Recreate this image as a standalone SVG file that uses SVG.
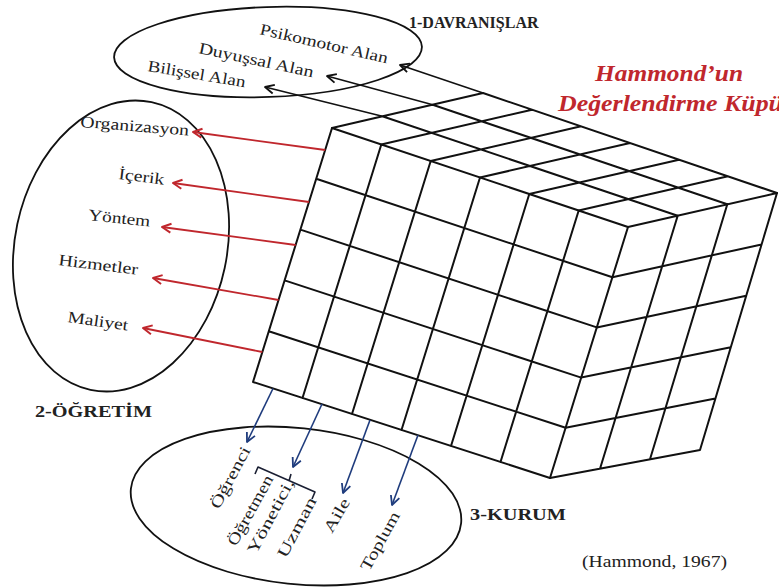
<svg xmlns="http://www.w3.org/2000/svg" width="779" height="588" viewBox="0 0 779 588">
<style>
  .grid { stroke: #111; stroke-width: 2; fill: none; stroke-linecap: round; }
  .ell { fill: none; stroke: #111; stroke-width: 1.8; }
  .lbl { font-family: "Liberation Serif", "Times New Roman", serif; font-size: 16px; fill: #222; }
  .hdr { font-family: "Liberation Serif", "Times New Roman", serif; font-size: 16px; font-weight: bold; fill: #222; }
  .title { font-family: "Liberation Serif", "Times New Roman", serif; font-size: 23px; font-weight: bold; font-style: italic; fill: #c0272d; }
  .ab { stroke: #111; stroke-width: 1.6; fill: none; marker-end: url(#mk-black); }
  .ar { stroke: #c0272d; stroke-width: 1.8; fill: none; marker-end: url(#mk-red); }
  .au { stroke: #1f3c7d; stroke-width: 1.6; fill: none; marker-end: url(#mk-blue); }
  .brk { stroke: #1a1f33; stroke-width: 1.6; fill: none; stroke-linejoin: round; }
</style>
<defs>
  <marker id="mk-black" markerUnits="userSpaceOnUse" viewBox="0 0 12 12" refX="11" refY="6" markerWidth="12" markerHeight="12" orient="auto">
    <path d="M2,1.5 L11,6 L2,10.5" fill="none" stroke="#111" stroke-width="1.8" stroke-linejoin="round"/>
  </marker>
  <marker id="mk-red" markerUnits="userSpaceOnUse" viewBox="0 0 12 12" refX="11" refY="6" markerWidth="12" markerHeight="12" orient="auto">
    <path d="M2,1.5 L11,6 L2,10.5" fill="none" stroke="#c0272d" stroke-width="2" stroke-linejoin="round"/>
  </marker>
  <marker id="mk-blue" markerUnits="userSpaceOnUse" viewBox="0 0 12 12" refX="11" refY="6" markerWidth="12" markerHeight="12" orient="auto">
    <path d="M2,1.5 L11,6 L2,10.5" fill="none" stroke="#1f3c7d" stroke-width="1.8" stroke-linejoin="round"/>
  </marker>
</defs>

<g id="cube">
  <g id="cube-front">
    <path class="grid" d="M332,128 L253,382 M381.3,144.5 L302.5,398 M430.7,161 L352,414 M480,177.5 L401.5,430 M529.3,194 L451,446 M578.7,210.5 L500.5,462 M628,227 L550,478
      M332,128 L628,227 M316.2,178.8 L612.4,277.2 M300.4,229.6 L596.8,327.4 M284.6,280.4 L581.2,377.6 M268.8,331.2 L565.6,427.8 M253,382 L550,478"/>
  </g>
  <g id="cube-right">
    <path class="grid" d="M677.7,215.7 L600,468.7 M727.3,204.3 L650,459.3 M777,193 L700,450
      M628,227 L777,193 M612.4,277.2 L761.6,244.4 M596.8,327.4 L746.2,295.8 M581.2,377.6 L730.8,347.2 M565.6,427.8 L715.4,398.6 M550,478 L700,450"/>
  </g>
  <g id="cube-top">
    <path class="grid" d="M382.3,116.3 L677.7,215.7 M432.7,104.7 L727.3,204.3 M483,93 L777,193
      M332,128 L483,93 M381.3,144.5 L532,109.7 M430.7,161 L581,126.3 M480,177.5 L630,143 M529.3,194 L679,159.7 M578.7,210.5 L728,176.3"/>
  </g>
</g>

<g id="title">
  <text class="title" x="595" y="81" textLength="148" lengthAdjust="spacingAndGlyphs">Hammond’un</text>
  <text class="title" x="558" y="111" textLength="225" lengthAdjust="spacingAndGlyphs">Değerlendirme Küpü</text>
</g>

<g id="davranislar">
  <ellipse class="ell" cx="268" cy="52" rx="154" ry="45" transform="rotate(-2 268 52)"/>
  <text class="hdr" x="409" y="28">1-DAVRANIŞLAR</text>
  <text class="lbl" transform="translate(259,34) rotate(13)" textLength="131" lengthAdjust="spacingAndGlyphs">Psikomotor Alan</text>
  <text class="lbl" transform="translate(198,53) rotate(12)" textLength="117" lengthAdjust="spacingAndGlyphs">Duyuşsal Alan</text>
  <text class="lbl" transform="translate(147,71) rotate(9.5)" textLength="99" lengthAdjust="spacingAndGlyphs">Bilişsel Alan</text>
</g>

<g id="ogretim">
  <ellipse class="ell" cx="121" cy="246" rx="106" ry="147" transform="rotate(12 121 246)"/>
  <text class="hdr" x="35" y="417" textLength="117" lengthAdjust="spacingAndGlyphs">2-ÖĞRETİM</text>
  <text class="lbl" transform="translate(80,127) rotate(4.5)" textLength="109" lengthAdjust="spacingAndGlyphs">Organizasyon</text>
  <text class="lbl" transform="translate(118,179) rotate(7)" textLength="46" lengthAdjust="spacingAndGlyphs">İçerik</text>
  <text class="lbl" transform="translate(88,220) rotate(6)" textLength="62" lengthAdjust="spacingAndGlyphs">Yöntem</text>
  <text class="lbl" transform="translate(58,265) rotate(7)" textLength="80" lengthAdjust="spacingAndGlyphs">Hizmetler</text>
  <text class="lbl" transform="translate(67,322) rotate(8)" textLength="61" lengthAdjust="spacingAndGlyphs">Maliyet</text>
</g>

<g id="kurum">
  <ellipse class="ell" cx="296" cy="506" rx="166" ry="78" transform="rotate(6 296 506)"/>
  <text class="hdr" x="470" y="520" textLength="96" lengthAdjust="spacingAndGlyphs">3-KURUM</text>
  <text class="lbl" transform="translate(219,510) rotate(-62)" textLength="68" lengthAdjust="spacingAndGlyphs">Öğrenci</text>
  <text class="lbl" transform="translate(236,547) rotate(-61)" textLength="78" lengthAdjust="spacingAndGlyphs">Öğretmen</text>
  <text class="lbl" transform="translate(256,555) rotate(-62)" textLength="82" lengthAdjust="spacingAndGlyphs">Yönetici,</text>
  <text class="lbl" transform="translate(286,559) rotate(-62)" textLength="66" lengthAdjust="spacingAndGlyphs">Uzman</text>
  <text class="lbl" transform="translate(332,534) rotate(-60)" textLength="37" lengthAdjust="spacingAndGlyphs">Aile</text>
  <text class="lbl" transform="translate(369,572) rotate(-61)" textLength="65" lengthAdjust="spacingAndGlyphs">Toplum</text>
  <path class="brk" d="M255,474 L258,467 L315,492 L312,499 M289,481 L291,474"/>
</g>

<g id="citation">
  <text class="lbl" x="582" y="567" font-size="17" textLength="145" lengthAdjust="spacingAndGlyphs">(Hammond, 1967)</text>
</g>

<g id="connectors">
  <path class="ab" d="M382.3,116.3 L265,87"/>
  <path class="ab" d="M432.7,104.7 L327,76"/>
  <path class="ab" d="M483,93 L400,65"/>
  <path class="ar" d="M325.2,150 L193,132"/>
  <path class="ar" d="M309,202 L173,183"/>
  <path class="ar" d="M295.6,245 L162,227"/>
  <path class="ar" d="M278.5,300 L153,278"/>
  <path class="ar" d="M262.3,352 L143,328"/>
  <path class="au" d="M273,388.5 L247,442"/>
  <path class="au" d="M322,404 L293,467"/>
  <path class="au" d="M370,420 L343,493"/>
  <path class="au" d="M418,435 L392,505"/>
</g>
</svg>
